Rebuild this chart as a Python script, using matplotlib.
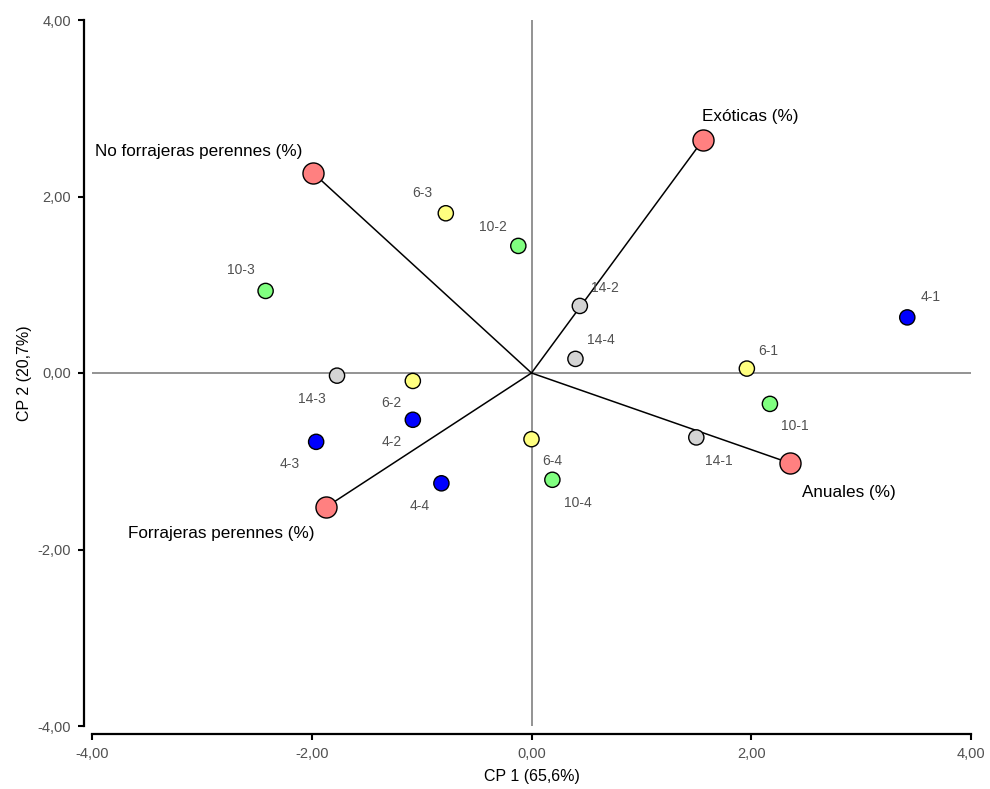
import numpy as np
import matplotlib.pyplot as plt

plt.rcParams['font.family'] = ['Liberation Sans', 'DejaVu Sans']

# Observaciones (sitio-fecha) en CP1 / CP2
obs_labels = ['6-3', '10-2', '10-3', '14-2', '4-1', '14-4', '6-1', '14-3',
              '6-2', '10-1', '4-2', '4-3', '14-1', '6-4', '10-4', '4-4']
obs_x = [-0.78, -0.12, -2.42, 0.44, 3.42, 0.40, 1.96, -1.77,
         -1.08, 2.17, -1.08, -1.96, 1.50, 0.00, 0.19, -0.82]
obs_y = [1.81, 1.44, 0.93, 0.76, 0.63, 0.16, 0.05, -0.03,
         -0.09, -0.35, -0.53, -0.78, -0.73, -0.75, -1.21, -1.25]
obs_group = ['6', '10', '10', '14', '4', '14', '6', '14',
             '6', '10', '4', '4', '14', '6', '10', '4']

# Variables (vectores)
var_labels = ['No forrajeras perennes (%)', 'Exóticas (%)', 'Anuales (%)', 'Forrajeras perennes (%)']
var_x = [-1.99, 1.56, 2.35, -1.87]
var_y = [2.27, 2.64, -1.02, -1.52]

colores = {'4': '#0000FF', '6': '#FFFF80', '10': '#80FF80', '14': '#D4D4D4'}

# desplazamiento de etiquetas en pixeles (x, y hacia abajo)
obs_off = [(-23, -20), (-25, -19), (-25, -21), (25, -18), (23, -20), (25, -19), (21, -18), (-25, 23),
           (-21, 22), (25, 22), (-21, 22), (-26, 22), (23, 24), (21, 22), (25, 23), (-22, 23)]
var_off = [(-114, -21), (47, -24), (59, 29), (-105, 26)]

fig = plt.figure(figsize=(9.9, 7.89), dpi=100)
ax = fig.add_axes([92 / 990, 1 - 726 / 789, (971 - 92) / 990, (726 - 20) / 789])

ax.axhline(0, color='#808080', lw=1.2, zorder=1)
ax.axvline(0, color='#808080', lw=1.2, zorder=1)

for vx, vy in zip(var_x, var_y):
    ax.plot([0, vx], [0, vy], color='black', lw=1.1, zorder=2)

ax.scatter(obs_x, obs_y, s=120, c=[colores[g] for g in obs_group],
           edgecolors='black', linewidths=1.0, zorder=3)
ax.scatter(var_x, var_y, s=230, c='#FF8080', edgecolors='black', linewidths=1.0, zorder=3)

for lab, x, y, (dx, dy) in zip(obs_labels, obs_x, obs_y, obs_off):
    ax.annotate(lab, (x, y), xytext=(dx * 0.72, -dy * 0.72), textcoords='offset points',
                ha='center', va='center', fontsize=10, color='#505050')

for lab, x, y, (dx, dy) in zip(var_labels, var_x, var_y, var_off):
    ax.annotate(lab, (x, y), xytext=(dx * 0.72, -dy * 0.72), textcoords='offset points',
                ha='center', va='center', fontsize=12.3, color='black')

ax.set_xlim(-4, 4)
ax.set_ylim(-4, 4)
ticks = [-4, -2, 0, 2, 4]
ax.set_xticks(ticks)
ax.set_yticks(ticks)
ax.set_xticklabels([f'{t:.2f}'.replace('.', ',') for t in ticks])
ax.set_yticklabels([f'{t:.2f}'.replace('.', ',') for t in ticks])
ax.tick_params(labelsize=10.5, labelcolor='#505050', length=4, width=1.5, direction='out', pad=5)

for s in ['top', 'right']:
    ax.spines[s].set_visible(False)
ax.spines['left'].set_position(('outward', 6))
ax.spines['bottom'].set_position(('outward', 6))
ax.spines['left'].set_linewidth(1.6)
ax.spines['bottom'].set_linewidth(1.6)

ax.set_xlabel('CP 1 (65,6%)', fontsize=11.5, labelpad=6)
ax.set_ylabel('CP 2 (20,7%)', fontsize=11.5, labelpad=4)

fig.savefig('out.png', dpi=100)
